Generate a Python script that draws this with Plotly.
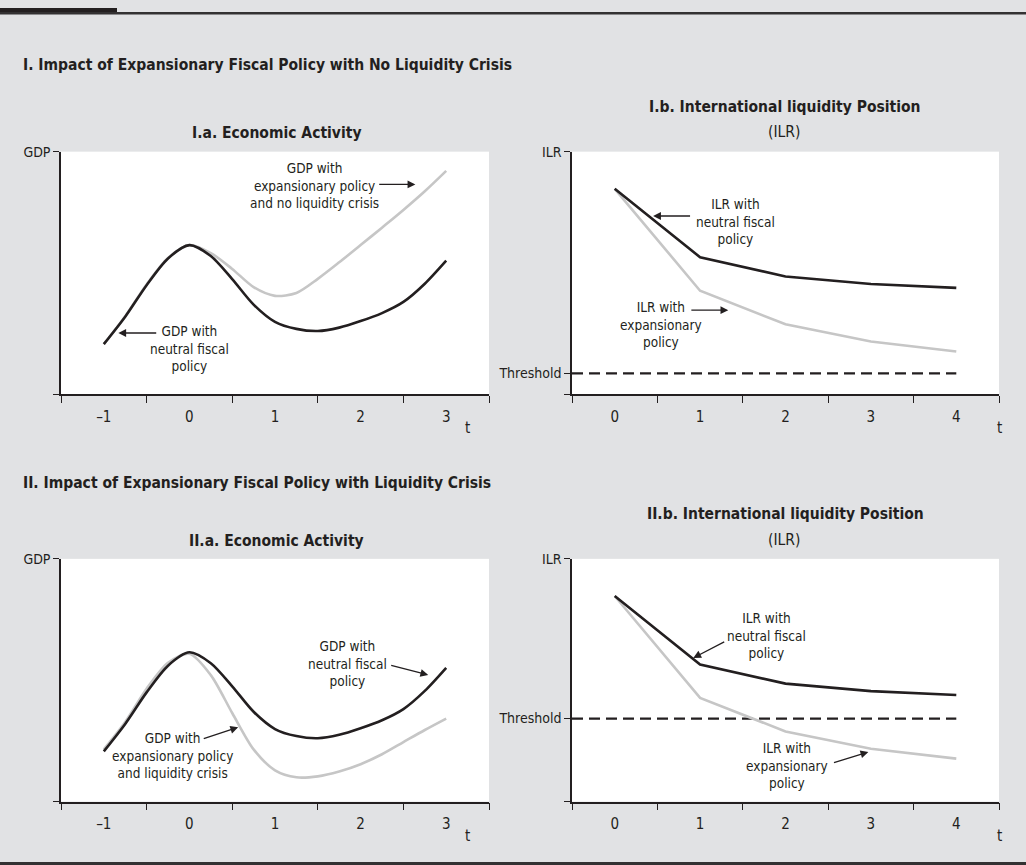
import plotly.graph_objects as go

# ---------------- data ----------------
t_gdp = [-1, -0.75, -0.5, -0.25, 0, 0.25, 0.5, 0.75, 1, 1.25, 1.5, 1.75, 2, 2.25, 2.5, 2.75, 3]
gdp_neutral = [20.7, 32.0, 45.0, 56.0, 61.5, 57.0, 47.5, 37.0, 29.9, 27.0, 26.1, 27.5, 30.2, 33.5, 38.1, 45.6, 55.1]
gdp_expansion_no_crisis = [20.7, 32.2, 45.3, 56.2, 61.5, 58.2, 51.7, 44.2, 40.6, 41.8, 47.6, 54.4, 61.5, 68.7, 76.0, 83.7, 92.1]
gdp_expansion_crisis = [21.5, 32.8, 46.5, 57.2, 60.9, 52.1, 36.5, 21.5, 12.9, 10.0, 10.4, 12.4, 15.4, 19.5, 24.5, 29.5, 34.2]

t_ilr = [0, 1, 2, 3, 4]
ilr_neutral = [84.7, 56.5, 48.6, 45.5, 43.9]
ilr_expansion = [84.7, 42.7, 28.9, 21.8, 17.7]
threshold_no_crisis = 8.7
threshold_crisis = 34.2

gdp_ticks = [-1, 0, 1, 2, 3]
ilr_ticks = [0, 1, 2, 3, 4]

# ---------------- styling ----------------
FONT = "Liberation Sans Narrow, DejaVu Sans Condensed, Arial Narrow, sans-serif"
INK = "#231f20"
GREY = "#c6c6c6"
BG = "#e1e2e4"
W, H = 1026, 865

fig = go.Figure()

def px_x(p):
    return p / W

def px_y(p):
    return 1 - p / H

dom_a = [px_x(61), px_x(489)]
dom_b = [px_x(572), px_x(999)]
dom_top = [px_y(390), px_y(145)]
dom_bot = [px_y(801), px_y(556)]

line_black = dict(color=INK, width=2.6)
line_grey = dict(color=GREY, width=2.6)
spl = dict(shape="spline", smoothing=0.8)

# Panel I.a
fig.add_trace(go.Scatter(x=t_gdp, y=gdp_expansion_no_crisis, mode="lines", line=dict(**line_grey, **spl), xaxis="x", yaxis="y"))
fig.add_trace(go.Scatter(x=t_gdp, y=gdp_neutral, mode="lines", line=dict(**line_black, **spl), xaxis="x", yaxis="y"))
# Panel I.b
fig.add_trace(go.Scatter(x=[-0.5, t_ilr[-1]], y=[threshold_no_crisis] * 2, mode="lines", line=dict(color=INK, width=2.2, dash="11px,6px"), xaxis="x2", yaxis="y2"))
fig.add_trace(go.Scatter(x=t_ilr, y=ilr_expansion, mode="lines", line=line_grey, xaxis="x2", yaxis="y2"))
fig.add_trace(go.Scatter(x=t_ilr, y=ilr_neutral, mode="lines", line=line_black, xaxis="x2", yaxis="y2"))
# Panel II.a
fig.add_trace(go.Scatter(x=t_gdp, y=gdp_expansion_crisis, mode="lines", line=dict(**line_grey, **spl), xaxis="x3", yaxis="y3"))
fig.add_trace(go.Scatter(x=t_gdp, y=gdp_neutral, mode="lines", line=dict(**line_black, **spl), xaxis="x3", yaxis="y3"))
# Panel II.b
fig.add_trace(go.Scatter(x=[-0.5, t_ilr[-1]], y=[threshold_crisis] * 2, mode="lines", line=dict(color=INK, width=2.2, dash="11px,6px"), xaxis="x4", yaxis="y4"))
fig.add_trace(go.Scatter(x=t_ilr, y=ilr_expansion, mode="lines", line=line_grey, xaxis="x4", yaxis="y4"))
fig.add_trace(go.Scatter(x=t_ilr, y=ilr_neutral, mode="lines", line=line_black, xaxis="x4", yaxis="y4"))


def xaxis(domain, rng, ticks, anchor):
    return dict(
        domain=domain, range=rng, anchor=anchor,
        tickvals=ticks, ticktext=[("\u2013" + str(-v)) if v < 0 else str(v) for v in ticks],
        ticks="outside", ticklen=8, tickcolor="rgba(0,0,0,0)",
        minor=dict(tickvals=[v - 0.5 for v in ticks] + [ticks[-1] + 0.5], ticks="outside",
                   ticklen=7, tickwidth=1.3, tickcolor=INK, showgrid=False),
        showline=True, linecolor=INK, linewidth=1.5,
        showgrid=False, zeroline=False, fixedrange=True,
        tickfont=dict(family=FONT, size=15, color=INK),
    )


def yaxis(domain, vals, texts, anchor):
    return dict(
        domain=domain, range=[0, 100], anchor=anchor,
        tickvals=vals, ticktext=texts,
        ticks="outside", ticklen=6, tickwidth=1.3, tickcolor=INK,
        showline=True, linecolor=INK, linewidth=1.5,
        showgrid=False, zeroline=False, fixedrange=True,
        tickfont=dict(family=FONT, size=14, color=INK),
    )


fig.update_layout(
    width=W, height=H,
    margin=dict(l=0, r=0, t=0, b=0),
    paper_bgcolor=BG, plot_bgcolor="white",
    showlegend=False,
    xaxis=xaxis(dom_a, [-1.5, 3.5], gdp_ticks, "y"),
    yaxis=yaxis(dom_top, [0, 100], ["", "GDP"], "x"),
    xaxis2=xaxis(dom_b, [-0.5, 4.5], ilr_ticks, "y2"),
    yaxis2=yaxis(dom_top, [0, threshold_no_crisis, 100], ["", "Threshold", "ILR"], "x2"),
    xaxis3=xaxis(dom_a, [-1.5, 3.5], gdp_ticks, "y3"),
    yaxis3=yaxis(dom_bot, [0, 100], ["", "GDP"], "x3"),
    xaxis4=xaxis(dom_b, [-0.5, 4.5], ilr_ticks, "y4"),
    yaxis4=yaxis(dom_bot, [0, threshold_crisis, 100], ["", "Threshold", "ILR"], "x4"),
)

# decorative frame bars
fig.add_shape(type="rect", xref="paper", yref="paper", x0=0, x1=px_x(117), y0=px_y(5), y1=1,
              fillcolor=INK, line=dict(width=0), layer="above")
fig.add_shape(type="rect", xref="paper", yref="paper", x0=0, x1=1, y0=px_y(6.5), y1=px_y(4),
              fillcolor="#333132", line=dict(width=0), layer="above")
fig.add_shape(type="rect", xref="paper", yref="paper", x0=0, x1=1, y0=0, y1=px_y(862),
              fillcolor="#333132", line=dict(width=0), layer="above")

ann = []

def txt(x, y, text, size=13.5, bold=False, xanchor="center", xref="paper", yref="paper"):
    ann.append(dict(x=x, y=y, xref=xref, yref=yref, text=("<b>%s</b>" % text) if bold else text,
                    showarrow=False, xanchor=xanchor, yanchor="middle", align="center",
                    font=dict(family=FONT, size=size, color=INK)))

def arrow(xref, yref, tail, head):
    ann.append(dict(x=head[0], y=head[1], ax=tail[0], ay=tail[1], xref=xref, yref=yref,
                    axref=xref, ayref=yref, text="", showarrow=True, arrowhead=2,
                    arrowsize=1.2, arrowwidth=1.3, arrowcolor=INK, standoff=0))

# headings
TS = 15.5
txt(px_x(21), px_y(58), "I. Impact of Expansionary Fiscal Policy with No Liquidity Crisis", size=TS, bold=True, xanchor="left")
txt(px_x(21), px_y(479), "II. Impact of Expansionary Fiscal Policy with Liquidity Crisis", size=TS, bold=True, xanchor="left")
txt(px_x(276), px_y(126), "I.a. Economic Activity", size=TS, bold=True)
txt(px_x(785), px_y(100), "I.b. International liquidity Position", size=TS, bold=True)
txt(px_x(784), px_y(125), "(ILR)", size=15.5)
txt(px_x(276), px_y(538), "II.a. Economic Activity", size=TS, bold=True)
txt(px_x(785), px_y(511), "II.b. International liquidity Position", size=TS, bold=True)
txt(px_x(784), px_y(537), "(ILR)", size=15.5)

# "t" axis labels
for xr, yr, xv in [("x", "y domain", 3.25), ("x2", "y2 domain", 4.5), ("x3", "y3 domain", 3.25), ("x4", "y4 domain", 4.5)]:
    ann.append(dict(x=xv, y=-0.14, xref=xr, yref=yr, text="t", showarrow=False,
                    xanchor="center", yanchor="middle", font=dict(family=FONT, size=15, color=INK)))

# Panel I.a labels
txt(1.467, 86.0, "GDP with<br>expansionary policy<br>and no liquidity crisis", xref="x", yref="y")
arrow("x", "y", (2.20, 86.5), (2.64, 86.5))
txt(0.0, 18.8, "GDP with<br>neutral fiscal<br>policy", xref="x", yref="y")
arrow("x", "y", (-0.37, 25.3), (-0.83, 25.3))

# Panel I.b labels
txt(1.42, 71.4, "ILR with<br>neutral fiscal<br>policy", xref="x2", yref="y2")
arrow("x2", "y2", (0.90, 73.5), (0.45, 73.5))
txt(0.54, 28.6, "ILR with<br>expansionary<br>policy", xref="x2", yref="y2")
arrow("x2", "y2", (0.88, 34.7), (1.33, 34.7))

# Panel II.a labels
txt(1.85, 56.7, "GDP with<br>neutral fiscal<br>policy", xref="x3", yref="y3")
arrow("x3", "y3", (2.34, 56.3), (2.79, 52.2))
txt(-0.20, 18.8, "GDP with<br>expansionary policy<br>and liquidity crisis", xref="x3", yref="y3")
arrow("x3", "y3", (0.15, 25.7), (0.57, 30.6))

# Panel II.b labels
txt(1.78, 68.6, "ILR with<br>neutral fiscal<br>policy", xref="x4", yref="y4")
arrow("x4", "y4", (1.30, 66.1), (0.92, 59.2))
txt(2.02, 14.7, "ILR with<br>expansionary<br>policy", xref="x4", yref="y4")
arrow("x4", "y4", (2.55, 15.9), (2.97, 20.4))

fig.update_layout(annotations=ann)

fig.write_html("out.html", config={"displayModeBar": False},
               post_script="document.body.style.margin='0';document.body.style.overflow='hidden';")
